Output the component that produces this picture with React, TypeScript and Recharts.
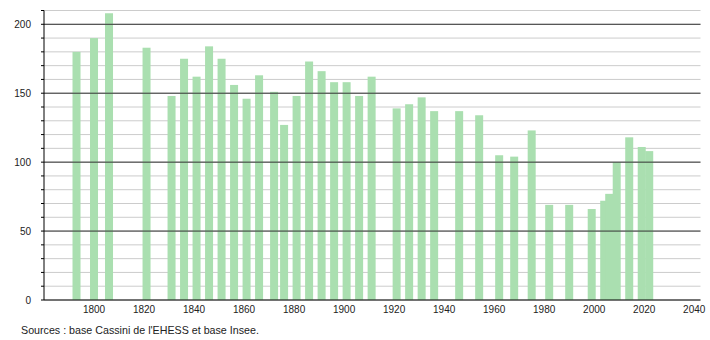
import React from "react";
import { ComposedChart, Bar, XAxis, YAxis, CartesianGrid, ReferenceLine } from "recharts";

const years = [
  1793, 1800, 1806, 1821, 1831, 1836, 1841, 1846, 1851, 1856, 1861, 1866, 1872,
  1876, 1881, 1886, 1891, 1896, 1901, 1906, 1911, 1921, 1926, 1931, 1936, 1946,
  1954, 1962, 1968, 1975, 1982, 1990, 1999, 2004, 2006, 2009, 2014, 2019, 2022,
];
const population = [
  180, 190, 208, 183, 148, 175, 162, 184, 175, 156, 146, 163, 151,
  127, 148, 173, 166, 158, 158, 148, 162, 139, 142, 147, 137, 137,
  134, 105, 104, 123, 69, 69, 66, 72, 77, 100, 118, 111, 108,
];
const xTicks = [1800, 1820, 1840, 1860, 1880, 1900, 1920, 1940, 1960, 1980, 2000, 2020, 2040];
const yMinorTicks = [0, 10, 20, 30, 40, 50, 60, 70, 80, 90, 100, 110, 120, 130, 140, 150, 160, 170, 180, 190, 200, 210];
const yMajorTicks = [50, 100, 150, 200];
const sourceText = "Sources : base Cassini de l'EHESS et base Insee.";

const data = years.map((year, i) => ({ year, pop: population[i] }));

const FONT = "'Liberation Sans', Arial, sans-serif";
const BAR_W = 8;

const WideBar = (props: any) => {
  const { x, y, width, height, fill } = props;
  if (height == null || height <= 0) return null;
  const cx = x + width / 2;
  return <rect x={cx - BAR_W / 2} y={y} width={BAR_W} height={height} fill={fill} />;
};

export default function App() {
  return (
    <div style={{ position: "absolute", left: 0, top: 0, width: 710, height: 340, background: "#fff", fontFamily: FONT }}>
      <ComposedChart
        width={710}
        height={340}
        data={data}
        margin={{ top: 10.5, right: 9.5, left: 0, bottom: 20 }}
      >
        <CartesianGrid horizontal vertical={false} stroke="#cccccc" strokeWidth={1} />
        {yMajorTicks.map((v) => (
          <ReferenceLine key={v} y={v} stroke="#333" strokeWidth={1} ifOverflow="extendDomain" />
        ))}
        <XAxis
          dataKey="year"
          type="number"
          domain={[1780, 2042.5]}
          ticks={xTicks}
          allowDataOverflow
          height={20}
          tickSize={0}
          tickMargin={6}
          axisLine={{ stroke: "#000", strokeWidth: 1 }}
          tick={{ fontSize: 10, fill: "#222", fontFamily: FONT }}
        />
        <YAxis
          type="number"
          domain={[0, 210]}
          ticks={yMinorTicks}
          interval={0}
          width={44}
          tickSize={3}
          tickMargin={10}
          axisLine={{ stroke: "#000", strokeWidth: 1 }}
          tickLine={{ stroke: "#000" }}
          tickFormatter={(v: number) => (v % 50 === 0 ? String(v) : "")}
          tick={{ fontSize: 10, fill: "#222", fontFamily: FONT }}
        />
        <Bar dataKey="pop" fill="#aadfb0" shape={WideBar} isAnimationActive={false} />
      </ComposedChart>
      <div
        style={{
          position: "absolute",
          left: 21,
          top: 324,
          fontSize: 10.7,
          lineHeight: "12px",
          color: "#222",
          fontFamily: FONT,
          whiteSpace: "nowrap",
        }}
      >
        {sourceText}
      </div>
    </div>
  );
}
